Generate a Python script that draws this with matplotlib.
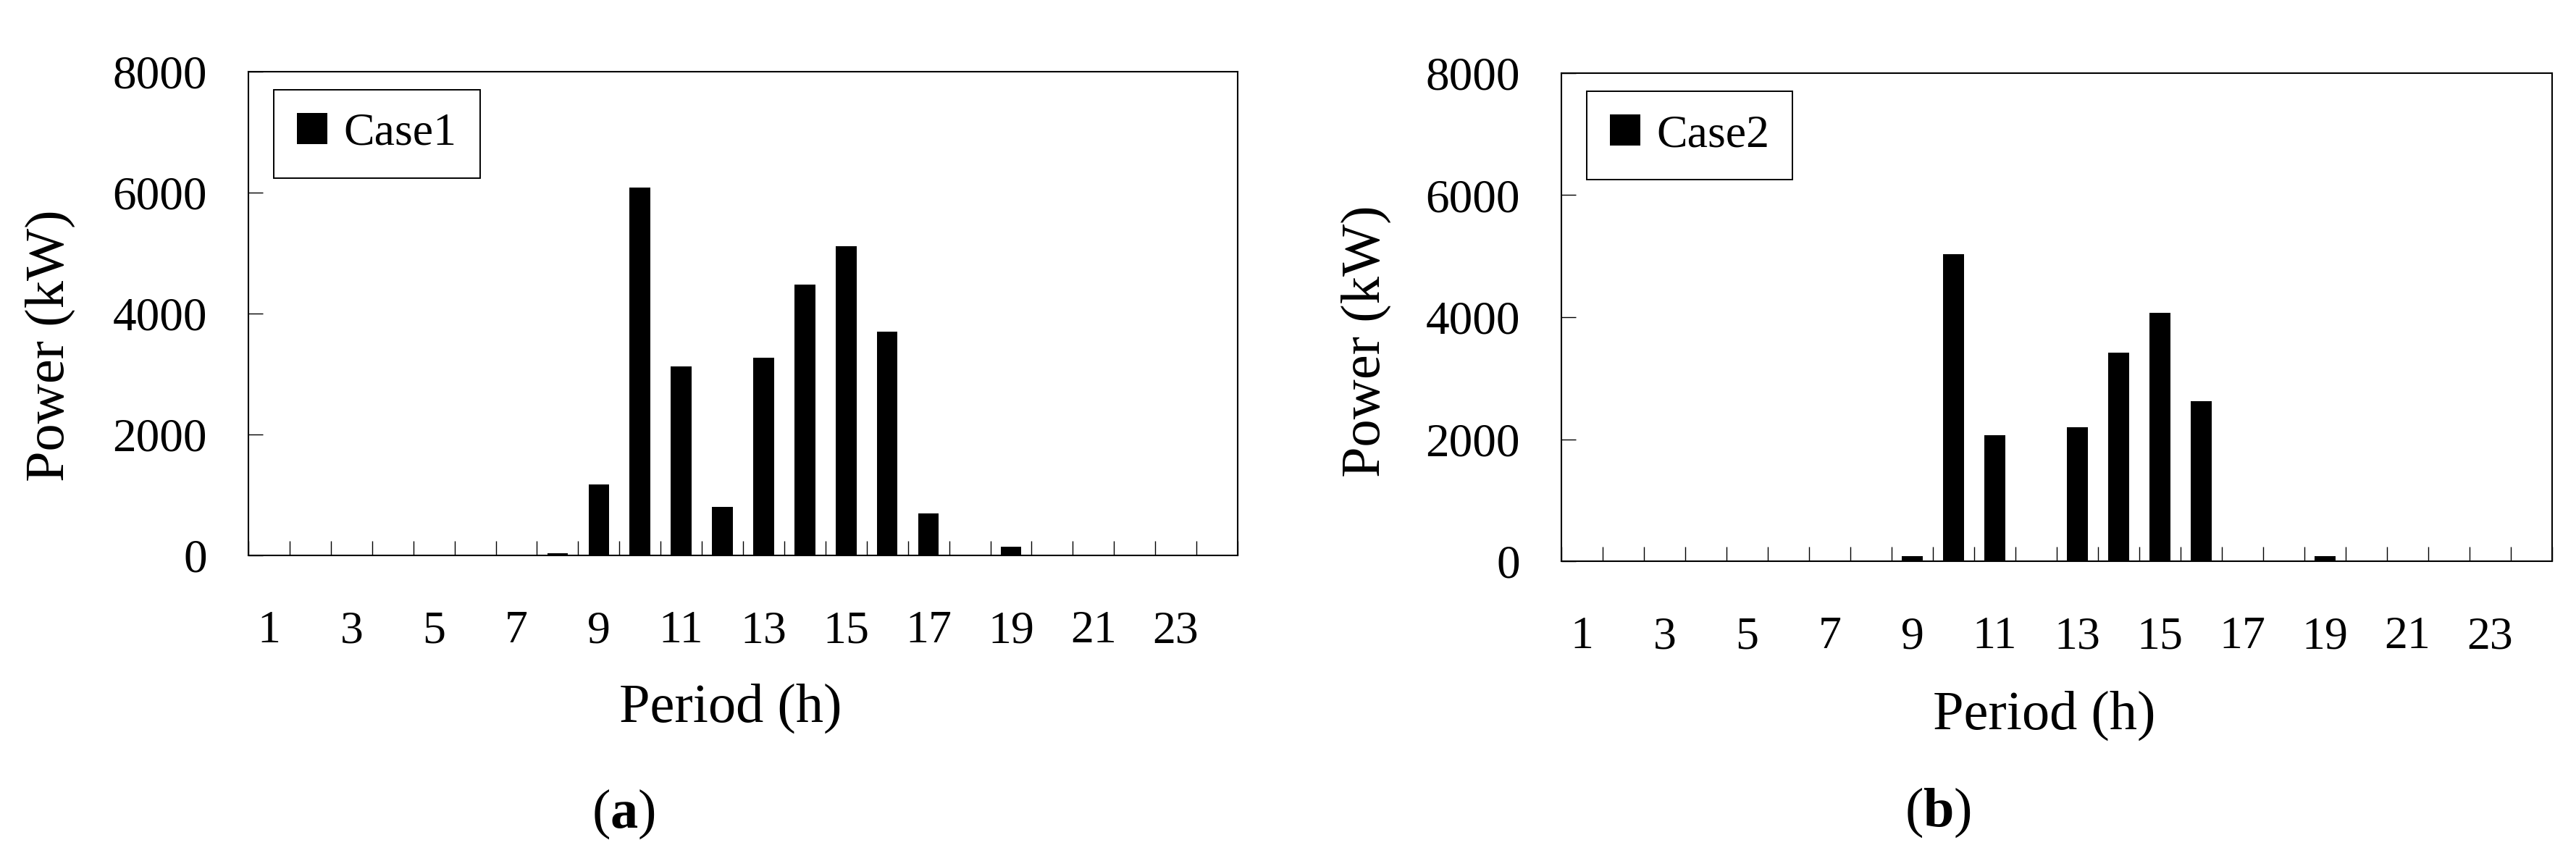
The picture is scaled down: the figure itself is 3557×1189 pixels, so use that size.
import matplotlib
matplotlib.use("Agg")
import matplotlib.pyplot as plt
from matplotlib.ticker import FixedLocator

# data (kW per hour)
hours = list(range(1, 25))
case1 = [0, 0, 0, 0, 0, 0, 0, 30, 1170, 6080, 3130, 800,
         3270, 4480, 5110, 3700, 700, 0, 140, 0, 0, 0, 0, 0]
case2 = [0, 0, 0, 0, 0, 0, 0, 0, 85, 5030, 2060, 0,
         2200, 3420, 4070, 2620, 0, 0, 85, 0, 0, 0, 0, 0]
xtick_labels = [str(h) for h in range(1, 24, 2)]
yticks = [0, 2000, 4000, 6000, 8000]

plt.rcParams['font.family'] = ['Liberation Serif', 'DejaVu Serif']
plt.rcParams['mathtext.fontset'] = 'custom'
plt.rcParams['mathtext.rm'] = 'Liberation Serif'
plt.rcParams['mathtext.bf'] = 'Liberation Serif:bold'

W, H = 3557, 1189
fig = plt.figure(figsize=(W / 100, H / 100), dpi=100)


def panel(rect, values, name, ylab_xy, tag, tag_xy):
    ax = fig.add_axes(rect)
    ax.bar(hours, values, width=0.5, color='black', label=name)
    ax.set_xlim(0.5, 24.5)
    ax.set_ylim(0, 8000)
    ax.set_yticks(yticks)

    # odd hours labelled, tick marks on the category borders
    ax.set_xticks(list(range(1, 24, 2)))
    ax.set_xticklabels(xtick_labels)
    ax.xaxis.set_minor_locator(FixedLocator([h + 0.5 for h in range(0, 25)]))
    ax.tick_params(axis='x', which='major', length=0, pad=55, labelsize=46)
    ax.tick_params(axis='x', which='minor', direction='in', length=14.5, width=1.0)
    ax.tick_params(axis='y', direction='in', length=14.5, width=1.0, pad=41, labelsize=47)

    for s in ax.spines.values():
        s.set_linewidth(1.5)

    ax.set_xlabel('Period (h)', fontsize=55)
    ax.xaxis.set_label_coords(0.4876, -0.344)
    ax.xaxis.label.set_va('baseline')
    ax.set_ylabel('Power (kW)', fontsize=55)
    ax.yaxis.set_label_coords(*ylab_xy)
    ax.yaxis.label.set_va('center')

    leg = ax.legend(loc='upper left', bbox_to_anchor=(0.0256, 0.9626), borderaxespad=0,
                    fontsize=46, handlelength=0.66, handleheight=0.66, handletextpad=0.35,
                    borderpad=0.5, fancybox=False, framealpha=1, edgecolor='black')
    leg.get_frame().set_linewidth(1.4)

    fig.text(tag_xy[0] / W, 1 - tag_xy[1] / H, tag, ha='center', va='baseline', fontsize=55)
    return ax


panel([343 / W, (H - 767) / H, 1366 / W, 668 / H], case1, 'Case1',
      (-0.200, 0.434), r'($\mathbf{a}$)', (861, 1143))
panel([2156 / W, (H - 775) / H, 1368 / W, 674 / H], case2, 'Case2',
      (-0.197, 0.451), r'($\mathbf{b}$)', (2676, 1141))

fig.savefig('out.png', dpi=100)
